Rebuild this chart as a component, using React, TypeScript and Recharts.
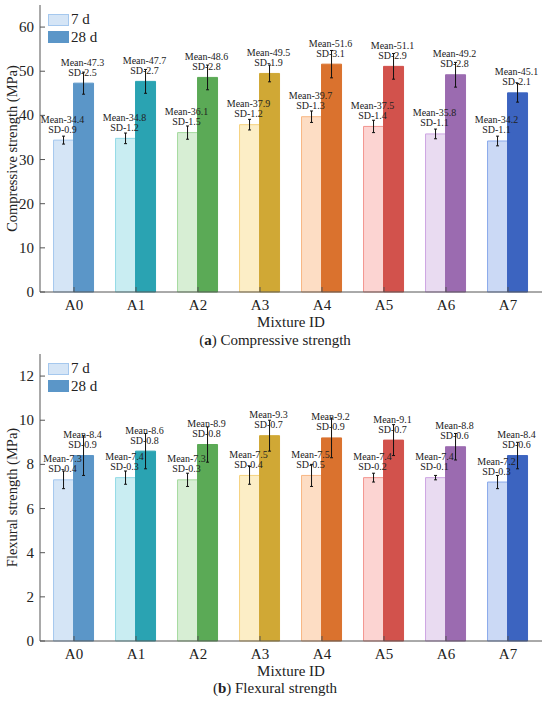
import React from 'react';
import { BarChart, Bar, XAxis, YAxis, ErrorBar, Cell, LabelList } from 'recharts';

const mixtures = ['A0', 'A1', 'A2', 'A3', 'A4', 'A5', 'A6', 'A7'];

const comp7 = [34.4, 34.8, 36.1, 37.9, 39.7, 37.5, 35.8, 34.2];
const compSd7 = [0.9, 1.2, 1.5, 1.2, 1.3, 1.4, 1.1, 1.1];
const comp28 = [47.3, 47.7, 48.6, 49.5, 51.6, 51.1, 49.2, 45.1];
const compSd28 = [2.5, 2.7, 2.8, 1.9, 3.1, 2.9, 2.8, 2.1];
const compTicks = [0, 10, 20, 30, 40, 50, 60];

const flex7 = [7.3, 7.4, 7.3, 7.5, 7.5, 7.4, 7.4, 7.2];
const flexSd7 = [0.4, 0.3, 0.3, 0.4, 0.5, 0.2, 0.1, 0.3];
const flex28 = [8.4, 8.6, 8.9, 9.3, 9.2, 9.1, 8.8, 8.4];
const flexSd28 = [0.9, 0.8, 0.8, 0.7, 0.9, 0.7, 0.6, 0.6];
const flexTicks = [0, 2, 4, 6, 8, 10, 12];

const fill7 = ['#D5E5F6', '#C9EDF2', '#D7EED4', '#FCEEC6', '#FDDDC4', '#FCD4D2', '#E9DBF1', '#CBD9F5'];
const stroke7 = ['#A5C8EE', '#93DAE6', '#A6DA9F', '#F6D27F', '#F8B683', '#F3958F', '#CDA5E3', '#8AAAEB'];
const fill28 = ['#5B96C8', '#2AA3B2', '#5BAA56', '#D0A835', '#DA722E', '#D2524C', '#9B6BB0', '#3C64C0'];

const SERIF = "'Liberation Serif', 'Times New Roman', serif";
const AXIS = '#555';

const LeftTick = (props: any) => {
  const { x, y, payload } = props;
  return (
    <g>
      <line x1={x} x2={x + 5} y1={y} y2={y} stroke={AXIS} />
      <text x={x - 6} y={y} textAnchor="end" dominantBaseline="central" fontSize={15} fontFamily={SERIF} fill="#222">
        {payload.value}
      </text>
    </g>
  );
};

const RightTick = (props: any) => {
  const { x, y } = props;
  return <line x1={x} x2={x - 5} y1={y} y2={y} stroke={AXIS} />;
};

const BottomTick = (props: any) => {
  const { x, y, payload } = props;
  return (
    <g>
      <line x1={x} x2={x} y1={y} y2={y - 5} stroke={AXIS} />
      <text x={x} y={y + 13} textAnchor="middle" dominantBaseline="central" fontSize={15} fontFamily={SERIF} fill="#222">
        {payload.value}
      </text>
    </g>
  );
};

const TopTick = (props: any) => {
  const { x, y } = props;
  return <line x1={x} x2={x} y1={y} y2={y + 5} stroke={AXIS} />;
};

const makeLabel = (sd: number[]) => (props: any) => {
  const { x, y, width, value, index } = props;
  const cx = Number(x) + Number(width) / 2 - 1;
  const top = Number(y);
  return (
    <g fontSize={10} fontFamily={SERIF} fill="#222" textAnchor="middle">
      <text x={cx} y={top - 21} dominantBaseline="central">{`Mean-${value}`}</text>
      <text x={cx} y={top - 11} dominantBaseline="central">{`SD-${sd[index]}`}</text>
    </g>
  );
};

interface PanelProps {
  top: number;
  v7: number[];
  s7: number[];
  v28: number[];
  s28: number[];
  domainMax: number;
  ticks: number[];
  yLabel: string;
  letter: string;
  caption: string;
  captionTop: number;
}

const Panel: React.FC<PanelProps> = ({ top, v7, s7, v28, s28, domainMax, ticks, yLabel, letter, caption, captionTop }) => {
  const rows = mixtures.map((id, i) => ({ id, v7: v7[i], e7: s7[i], v28: v28[i], e28: s28[i] }));
  const height = 349;
  const legendText: React.CSSProperties = {
    position: 'absolute',
    left: 71,
    height: 17,
    lineHeight: '17px',
    fontSize: 15,
    fontFamily: SERIF,
    color: '#222',
  };

  return (
    <div style={{ position: 'absolute', left: 0, top, width: 550, height }}>
      <BarChart
        width={550}
        height={height}
        data={rows}
        margin={{ top: 5, right: 8, bottom: 0, left: 0 }}
        barCategoryGap="17%"
        barGap={0}
      >
        <XAxis
          dataKey="id"
          height={57}
          padding={{ left: 3, right: 3 }}
          axisLine={{ stroke: AXIS }}
          tickLine={false}
          tickSize={0}
          tickMargin={0}
          tick={<BottomTick />}
          interval={0}
          label={{
            content: (p: any) => {
              const vb = p.viewBox;
              return (
                <text x={vb.x + vb.width / 2} y={vb.y + 30} textAnchor="middle" dominantBaseline="central" fontSize={15} fontFamily={SERIF} fill="#222">
                  Mixture ID
                </text>
              );
            },
          }}
        />
        <XAxis
          xAxisId="top"
          dataKey="id"
          orientation="top"
          height={0}
          padding={{ left: 3, right: 3 }}
          axisLine={{ stroke: AXIS }}
          tickLine={false}
          tickSize={0}
          tickMargin={0}
          tick={<TopTick />}
          interval={0}
        />
        <YAxis
          width={40}
          domain={[0, domainMax]}
          ticks={ticks}
          axisLine={{ stroke: AXIS }}
          tickLine={false}
          tickSize={0}
          tickMargin={0}
          tick={<LeftTick />}
          interval={0}
          label={{
            content: (p: any) => {
              const vb = p.viewBox;
              const lx = 12;
              const ly = vb.y + vb.height / 2;
              return (
                <text x={lx} y={ly} transform={`rotate(-90 ${lx} ${ly})`} textAnchor="middle" dominantBaseline="central" fontSize={14.5} fontFamily={SERIF} fill="#222">
                  {yLabel}
                </text>
              );
            },
          }}
        />
        <YAxis
          yAxisId="r"
          orientation="right"
          width={0}
          domain={[0, domainMax]}
          ticks={ticks}
          axisLine={{ stroke: AXIS }}
          tickLine={false}
          tickSize={0}
          tickMargin={0}
          tick={<RightTick />}
          interval={0}
        />
        <Bar dataKey="v7" isAnimationActive={false} strokeWidth={1}>
          {rows.map((r, i) => (
            <Cell key={r.id} fill={fill7[i]} stroke={stroke7[i]} />
          ))}
          <ErrorBar dataKey="e7" width={1.5} stroke="#111" strokeWidth={1} isAnimationActive={false} />
          <LabelList dataKey="v7" content={makeLabel(s7)} />
        </Bar>
        <Bar dataKey="v28" isAnimationActive={false} strokeWidth={1}>
          {rows.map((r, i) => (
            <Cell key={r.id} fill={fill28[i]} stroke={fill28[i]} />
          ))}
          <ErrorBar dataKey="e28" width={1.5} stroke="#111" strokeWidth={1} isAnimationActive={false} />
          <LabelList dataKey="v28" content={makeLabel(s28)} />
        </Bar>
      </BarChart>

      <div style={{ position: 'absolute', left: 48, top: 14, width: 21, height: 12, background: fill7[0], border: `1px solid ${stroke7[0]}`, boxSizing: 'border-box' }} />
      <div style={{ ...legendText, top: 11 }}>7 d</div>
      <div style={{ position: 'absolute', left: 48, top: 31, width: 21, height: 12, background: fill28[0], boxSizing: 'border-box' }} />
      <div style={{ ...legendText, top: 29 }}>28 d</div>

      <div style={{ position: 'absolute', left: 0, top: captionTop, width: 550, textAlign: 'center', lineHeight: '18px', fontSize: 15, fontFamily: SERIF, color: '#222' }}>
        (<b>{letter}</b>) {caption}
      </div>
    </div>
  );
};

export default function App() {
  return (
    <div style={{ position: 'absolute', left: 0, top: 0, width: 550, height: 702, background: '#fff', overflow: 'hidden' }}>
      <Panel
        top={0}
        v7={comp7}
        s7={compSd7}
        v28={comp28}
        s28={compSd28}
        domainMax={65}
        ticks={compTicks}
        yLabel="Compressive strength (MPa)"
        letter="a"
        caption="Compressive strength"
        captionTop={331}
      />
      <Panel
        top={349}
        v7={flex7}
        s7={flexSd7}
        v28={flex28}
        s28={flexSd28}
        domainMax={13}
        ticks={flexTicks}
        yLabel="Flexural strength (MPa)"
        letter="b"
        caption="Flexural strength"
        captionTop={330}
      />
    </div>
  );
}
